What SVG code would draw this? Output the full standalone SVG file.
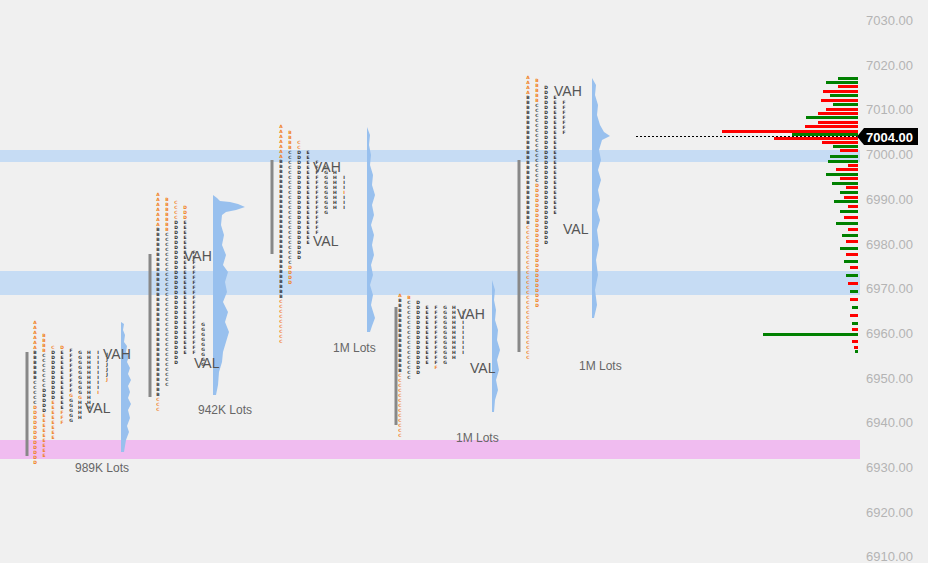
<svg xmlns="http://www.w3.org/2000/svg" width="928" height="563" viewBox="0 0 928 563">
<style>
.t{font-family:"DejaVu Sans",sans-serif;font-weight:bold;font-size:4.5px;writing-mode:vertical-rl;text-orientation:upright;fill:#333}
.o{fill:#f08020}
.lbl{font-family:"Liberation Sans",Arial,sans-serif;font-size:14px;fill:#555}
.lots{font-family:"Liberation Sans",Arial,sans-serif;font-size:12px;fill:#666}
.ax{font-family:"Liberation Sans",Arial,sans-serif;font-size:13px;fill:#b4b4b4}
.bar{fill:#888}
.h{fill:#98c0ee}
.r{fill:#ff0000}
.g{fill:#008000}
</style>
<rect width="928" height="563" fill="#f0f0f0"/>
<g id="bands">
<rect x="0" y="150" width="860" height="12" fill="#c6dcf4"/>
<rect x="0" y="271" width="860" height="24" fill="#c6dcf4"/>
<rect x="0" y="440" width="860" height="19" fill="#f0bcf0"/>
</g>
<g id="axis">
<text class="ax" x="866" y="25">7030.00</text>
<text class="ax" x="866" y="70">7020.00</text>
<text class="ax" x="866" y="114">7010.00</text>
<text class="ax" x="866" y="159">7000.00</text>
<text class="ax" x="866" y="204">6990.00</text>
<text class="ax" x="866" y="249">6980.00</text>
<text class="ax" x="866" y="293">6970.00</text>
<text class="ax" x="866" y="338">6960.00</text>
<text class="ax" x="866" y="383">6950.00</text>
<text class="ax" x="866" y="427">6940.00</text>
<text class="ax" x="866" y="472">6930.00</text>
<text class="ax" x="866" y="517">6920.00</text>
<text class="ax" x="866" y="561">6910.00</text>
</g>
<g id="profile1">
<rect class="bar" x="25.5" y="352" width="3" height="104"/>
<text class="t" x="35" y="320"><tspan class="o">AAAAAA</tspan>BBBBBBCCCCC<tspan class="o">DDDDDDDDDDDD</tspan></text>
<text class="t" x="44" y="333"><tspan class="o">BBBB</tspan>CCCCCCCDDDDD<tspan class="o">EEEEEEEEE</tspan></text>
<text class="t" x="53" y="345"><tspan class="o">C</tspan>DDDDDDDDDD<tspan class="o">EEEEEEEE</tspan></text>
<text class="t" x="62" y="345"><tspan class="o">D</tspan>EEEEEEEEEEEE<tspan class="o">FFF</tspan></text>
<text class="t" x="71" y="348">FFFFFFFFF<tspan class="o">G</tspan>GGGGG</text>
<text class="t" x="80" y="350">GGGGGGGGG<tspan class="o">G</tspan>HHHH</text>
<text class="t" x="89" y="350">HHHHHHHHHHHH</text>
<text class="t" x="98" y="350">IIIIIIII<tspan class="o">I</tspan></text>
<text class="t" x="107" y="352">JJJJJ<tspan class="o">J</tspan></text>
<path class="h" d="M121,452 L121,322 L124,324 L123,330 L125,335 L124,342 L127,346 L126,352 L129,356 L127,362 L130,368 L128,374 L131,380 L128,386 L130,392 L128,398 L131,404 L128,410 L130,418 L127,426 L129,432 L126,440 L125,446 L124,452 Z"/>
<text class="lbl" x="103" y="359">VAH</text>
<text class="lbl" x="85" y="413">VAL</text>
<text class="lots" x="75" y="472">989K Lots</text>
</g>
<g id="profile2">
<rect class="bar" x="148.5" y="254" width="3" height="143"/>
<text class="t" x="158" y="192"><tspan class="o">AAAAAAA</tspan>BBBBBBBBBBBBBBBBBBBBBBBBBBBBBBBBBB<tspan class="o">CCC</tspan></text>
<text class="t" x="167" y="197"><tspan class="o">BBBBBBB</tspan>CCCCCCCCCCCCCCCCCCCCCCCCCCCCCCC</text>
<text class="t" x="176" y="200"><tspan class="o">CCCC</tspan>DDDDDDDDDDDDDDDDDDDDDDDDDDDDD</text>
<text class="t" x="185" y="205"><tspan class="o">DDD</tspan>EEEEEEEEEEEEEEEEEEEEEEEEEEE</text>
<text class="t" x="194" y="250">FFFFFFFFFFFFFFFFFFFFF</text>
<text class="t" x="203" y="322">GGGGGGGGG</text>
<path class="h" d="M213,395 L213,195 L217,198 L220,201 L230,202 L238,204 L245,207 L236,210 L226,212 L222,215 L221,225 L224,235 L222,245 L226,255 L223,265 L228,272 L225,282 L227,292 L223,302 L228,312 L225,322 L229,332 L226,342 L223,352 L222,362 L219,372 L218,385 L216,395 Z"/>
<text class="lbl" x="184" y="261">VAH</text>
<text class="lbl" x="194" y="368">VAL</text>
<text class="lots" x="198" y="414">942K Lots</text>
</g>
<g id="profile3">
<rect class="bar" x="270.5" y="160" width="3" height="94"/>
<text class="t" x="281" y="124"><tspan class="o">AAAAAAA</tspan>BBBBBBBBBBBBBBBBBBBBBBBBBBBB<tspan class="o">CCCCCCCCC</tspan></text>
<text class="t" x="290" y="130"><tspan class="o">BBBB</tspan>CCCCCCCCCCCCCCCCCCCCCCC<tspan class="o">DDDD</tspan></text>
<text class="t" x="299" y="140"><tspan class="o">CC</tspan>DDDDDDDDDDDDDDDDDDDDDD</text>
<text class="t" x="308" y="150">EEEEEEEEEEEEEEEEEEE</text>
<text class="t" x="317" y="160">FFFFFFFFFFFFFFF</text>
<text class="t" x="326" y="165">GGGGGGGGGG</text>
<text class="t" x="335" y="170">HHHHHHHH</text>
<text class="t" x="344" y="175">III<tspan class="o">I</tspan>III</text>
<path class="h" d="M367,332 L367,127 L370,135 L369,145 L371,155 L370,165 L373,175 L372,185 L375,195 L372,205 L374,215 L371,225 L374,235 L372,245 L374,255 L371,265 L373,275 L370,285 L373,295 L371,305 L375,318 L372,326 L370,332 Z"/>
<text class="lbl" x="313" y="172">VAH</text>
<text class="lbl" x="313" y="246">VAL</text>
<text class="lots" x="333" y="352">1M Lots</text>
</g>
<g id="profile4">
<rect class="bar" x="394.5" y="307" width="3" height="118"/>
<text class="t" x="400" y="293"><tspan class="o">A</tspan>BBBBBBBBBBBBBBB<tspan class="o">CCCCCCCCCCCCC</tspan></text>
<text class="t" x="409" y="295"><tspan class="o">B</tspan>CCCCCCCCCCCCCCCC</text>
<text class="t" x="418" y="300">DDDDDDDDDDDDDDD</text>
<text class="t" x="427" y="305">EEEEEEEEEEEE</text>
<text class="t" x="436" y="305">FFFFFFFFFFFF<tspan class="o">F</tspan></text>
<text class="t" x="445" y="305">GGGGGGGGGGGG</text>
<text class="t" x="454" y="305">HHHHHHHHHHH</text>
<text class="t" x="463" y="310">IIIIIIIII</text>
<path class="h" d="M492,412 L492,280 L495,290 L494,300 L496,310 L495,320 L498,330 L497,340 L500,350 L497,360 L499,370 L496,380 L498,390 L495,400 L494,412 Z"/>
<text class="lbl" x="457" y="319">VAH</text>
<text class="lbl" x="470" y="373">VAL</text>
<text class="lots" x="456" y="442">1M Lots</text>
</g>
<g id="profile5">
<rect class="bar" x="517.5" y="160" width="3" height="192"/>
<text class="t" x="528" y="75"><tspan class="o">AAAA</tspan>BBBBBBBBBBBBBBBBBBBBBBBBBB<tspan class="o">CCCCCCCCCCCCCCCCCCCCCCCCCCC</tspan></text>
<text class="t" x="537" y="78"><tspan class="o">BBBBB</tspan>CCCCCCCCCCCCCCCC<tspan class="o">DDDDDDDDDDDDDDDDDDDDDDDDD</tspan></text>
<text class="t" x="546" y="85">DDDDDDDDDDDDDDDDDDDDDDDDDDDDDDDD</text>
<text class="t" x="555" y="95">EEEEEEEEEEEEEEEEEEEEEEEE</text>
<text class="t" x="564" y="100">FFFFFFF</text>
<path class="h" d="M592,318 L592,78 L596,85 L595,95 L598,105 L597,115 L600,125 L604,132 L610,136 L602,140 L599,150 L601,160 L598,170 L601,180 L598,190 L600,200 L597,210 L600,220 L597,230 L599,245 L596,260 L598,275 L595,290 L597,305 L594,318 Z"/>
<text class="lbl" x="554" y="96">VAH</text>
<text class="lbl" x="563" y="234">VAL</text>
<text class="lots" x="579" y="370">1M Lots</text>
</g>
<g id="volume">
<rect class="g" x="838" y="77" width="20" height="3"/>
<rect class="g" x="826" y="81" width="32" height="3"/>
<rect class="r" x="838" y="85" width="20" height="3"/>
<rect class="r" x="823" y="90" width="35" height="3"/>
<rect class="g" x="830" y="94" width="28" height="3"/>
<rect class="r" x="821" y="99" width="37" height="3"/>
<rect class="g" x="833" y="103" width="25" height="3"/>
<rect class="r" x="826" y="108" width="32" height="3"/>
<rect class="r" x="818" y="112" width="40" height="3"/>
<rect class="g" x="806" y="116" width="52" height="3"/>
<rect class="r" x="818" y="121" width="40" height="3"/>
<rect class="r" x="805" y="125" width="53" height="3"/>
<rect class="r" x="722" y="130" width="136" height="3"/>
<rect class="g" x="792" y="133" width="66" height="3"/>
<rect class="r" x="774" y="137" width="84" height="3"/>
<rect class="r" x="822" y="141" width="36" height="3"/>
<rect class="g" x="833" y="145" width="25" height="3"/>
<rect class="r" x="840" y="149" width="18" height="3"/>
<rect class="g" x="830" y="155" width="28" height="3"/>
<rect class="g" x="828" y="160" width="30" height="3"/>
<rect class="r" x="848" y="164" width="10" height="3"/>
<rect class="r" x="836" y="168" width="22" height="3"/>
<rect class="g" x="826" y="173" width="32" height="3"/>
<rect class="r" x="840" y="177" width="18" height="3"/>
<rect class="g" x="832" y="182" width="26" height="3"/>
<rect class="r" x="846" y="186" width="12" height="3"/>
<rect class="g" x="840" y="191" width="18" height="3"/>
<rect class="r" x="844" y="196" width="14" height="3"/>
<rect class="g" x="834" y="200" width="24" height="3"/>
<rect class="r" x="848" y="205" width="10" height="3"/>
<rect class="g" x="840" y="210" width="18" height="3"/>
<rect class="r" x="844" y="216" width="14" height="3"/>
<rect class="g" x="836" y="222" width="22" height="3"/>
<rect class="r" x="848" y="228" width="10" height="3"/>
<rect class="g" x="842" y="234" width="16" height="3"/>
<rect class="r" x="846" y="240" width="12" height="3"/>
<rect class="g" x="840" y="247" width="18" height="3"/>
<rect class="r" x="846" y="253" width="12" height="3"/>
<rect class="g" x="844" y="260" width="14" height="3"/>
<rect class="r" x="850" y="266" width="8" height="3"/>
<rect class="g" x="846" y="274" width="12" height="3"/>
<rect class="r" x="848" y="282" width="10" height="3"/>
<rect class="g" x="850" y="290" width="8" height="3"/>
<rect class="r" x="850" y="298" width="8" height="3"/>
<rect class="g" x="852" y="306" width="6" height="3"/>
<rect class="r" x="850" y="314" width="8" height="3"/>
<rect class="g" x="852" y="322" width="6" height="3"/>
<rect class="r" x="852" y="328" width="6" height="3"/>
<rect class="g" x="763" y="333" width="95" height="3"/>
<rect class="r" x="852" y="340" width="6" height="3"/>
<rect class="r" x="854" y="346" width="4" height="3"/>
<rect class="g" x="855" y="350" width="3" height="3"/>
</g>
<g id="price">
<line x1="636" y1="136.5" x2="857" y2="136.5" stroke="#000" stroke-dasharray="2,2"/>
<path d="M857,136.5 L864,128 L918,128 L918,145 L864,145 Z" fill="#000"/>
<text x="866" y="142" font-family="Liberation Sans,Arial,sans-serif" font-size="13" font-weight="bold" fill="#fff">7004.00</text>
</g>
</svg>
